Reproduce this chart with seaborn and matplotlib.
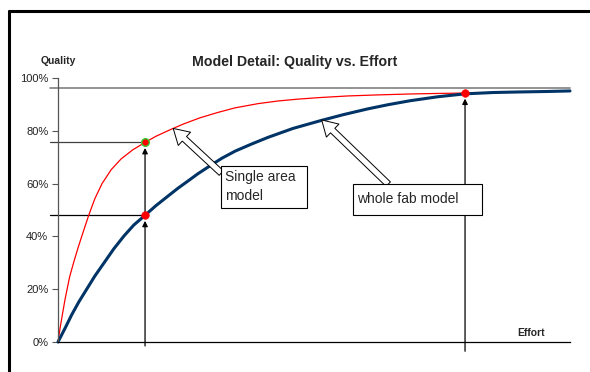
import matplotlib
matplotlib.use("Agg")
import numpy as np
import pandas as pd
import seaborn as sns
import matplotlib.pyplot as plt
from matplotlib.patches import Rectangle
from matplotlib.lines import Line2D

# values (effort in arbitrary units 0-100, quality in %)
effort_single = [0, 0.4, 1.0, 1.4, 1.8, 2.3, 3.1, 3.9, 4.7, 6.0, 7.2, 8.6, 10.4, 12.3, 14.6, 17.0,
                 19.1, 21.9, 24.4, 27.7, 31.3, 34.6, 39.1, 43.0, 46.9, 51.2, 56.6, 62.5, 68.8, 74.2, 79.5]
quality_single = [0, 5.2, 12, 16.4, 20.2, 24.9, 30.4, 35.6, 40.4, 48, 54.3, 60, 65.3, 69.3, 72.8, 75.6,
                  77.9, 80.4, 82.5, 84.9, 87.0, 88.7, 90.3, 91.3, 92.0, 92.6, 93.2, 93.6, 93.95, 94.15, 94.3]

effort_fab = [0, 1.4, 2.7, 4.1, 5.7, 7.2, 9.0, 10.9, 12.9, 14.8, 17.0, 19.1, 21.5, 23.4, 25.4, 27.3, 29.5,
              32.0, 34.6, 37.7, 41.0, 45.9, 51.2, 55.7, 60.5, 64.5, 68.8, 74.2, 79.5, 85.0, 89.8, 95.7, 100]
quality_fab = [0, 5.3, 10.4, 15.3, 20.3, 25.0, 30.0, 35.3, 40.2, 44.3, 48, 51.6, 55.3, 58.2, 61.0, 63.7, 66.5,
               69.6, 72.3, 74.9, 77.5, 80.9, 83.8, 86.1, 88.3, 89.9, 91.4, 92.9, 94.0, 94.5, 94.7, 94.9, 95.1]

point_effort = [17.0, 17.0, 79.5]
point_quality = [75.6, 48.0, 94.3]
ceiling = 96.2

y_ticks = [0, 20, 40, 60, 80, 100]
y_labels = ["0%", "20%", "40%", "60%", "80%", "100%"]

single = pd.DataFrame({"effort": effort_single, "quality": quality_single})
fab = pd.DataFrame({"effort": effort_fab, "quality": quality_fab})
pts = pd.DataFrame({"effort": point_effort, "quality": point_quality})

sns.set_style("white")
plt.rcParams["font.family"] = ["Liberation Sans", "DejaVu Sans"]

W, H = 590, 372
fig = plt.figure(figsize=(W / 100, H / 100), dpi=100)
ax = fig.add_axes([58 / W, 30 / H, 512 / W, 264 / H])

# frame lines (top and left only)
fig.add_artist(Line2D([8.5 / W, 1.0], [1 - 10.5 / H, 1 - 10.5 / H], color="black", lw=2.2))
fig.add_artist(Line2D([8.5 / W, 8.5 / W], [0, 1 - 10.5 / H], color="black", lw=2.2))

# reference lines
ax.plot([-1.6, 100], [ceiling, ceiling], color="#808080", lw=1.2, clip_on=False)
ax.plot([-1.6, point_effort[0]], [point_quality[0]] * 2, color="#404040", lw=0.9, clip_on=False)
ax.plot([-1.6, point_effort[1]], [point_quality[1]] * 2, color="black", lw=0.9, clip_on=False)

# vertical arrows up to points
arrow_kw = dict(arrowstyle="-|>", color="black", lw=0.9, shrinkA=0, shrinkB=4, mutation_scale=8)
ax.annotate("", xy=(point_effort[1], point_quality[1]), xytext=(point_effort[1], -1.5),
            arrowprops=arrow_kw, annotation_clip=False)
ax.annotate("", xy=(point_effort[0], point_quality[0]), xytext=(point_effort[1], point_quality[1]),
            arrowprops=arrow_kw, annotation_clip=False)
ax.annotate("", xy=(point_effort[2], point_quality[2]), xytext=(point_effort[2], -3.5),
            arrowprops=arrow_kw, annotation_clip=False)

sns.lineplot(data=single, x="effort", y="quality", color="#ff0000", lw=0.9, ax=ax, clip_on=False)
sns.lineplot(data=fab, x="effort", y="quality", color="#003366", lw=2.2, ax=ax, clip_on=False,
             solid_joinstyle="round")

sns.scatterplot(data=pts.iloc[1:], x="effort", y="quality", color="#ff0000", edgecolor="#ff0000",
                s=30, ax=ax, zorder=5, clip_on=False)
sns.scatterplot(data=pts.iloc[:1], x="effort", y="quality", color="#ff0000", edgecolor="#33cc33",
                linewidth=1.0, s=30, ax=ax, zorder=5, clip_on=False)

ax.set_xlim(0, 100)
ax.set_ylim(0, 100)
ax.set_xticks([])
ax.set_yticks(y_ticks)
ax.set_yticklabels(y_labels, fontsize=8, color="#222222")
ax.tick_params(axis="y", left=True, length=4, width=0.8, color="#555555", pad=3)
ax.set_xlabel("")
ax.set_ylabel("")
for s in ["top", "right"]:
    ax.spines[s].set_visible(False)
ax.spines["left"].set_color("#555555")
ax.spines["left"].set_linewidth(0.9)
ax.spines["bottom"].set_color("black")
ax.spines["bottom"].set_linewidth(0.9)

# callouts
block = dict(arrowstyle="simple,head_length=1.1,head_width=1.3,tail_width=0.45",
             fc="white", ec="black", lw=0.7, shrinkA=0, shrinkB=0, mutation_scale=10)
ax.annotate("", xy=(22.5, 80.9), xytext=(31.9, 64.0), arrowprops=block, zorder=6)
ax.annotate("", xy=(51.5, 84.1), xytext=(64.5, 59.8), arrowprops=block, zorder=6)

ax.add_patch(Rectangle((31.8, 50.8), 16.8, 15.9, fc="white", ec="black", lw=0.8, zorder=7))
ax.text(32.6, 58.9, "Single area\nmodel", fontsize=10, ha="left", va="center",
        linespacing=1.45, zorder=8)
ax.add_patch(Rectangle((57.6, 48.1), 25.2, 11.7, fc="white", ec="black", lw=0.8, zorder=7))
ax.text(58.4, 54.0, "whole fab model", fontsize=10, ha="left", va="center", zorder=8)

fig.text(295 / W, 1 - 62 / H, "Model Detail: Quality vs. Effort", fontsize=10.2,
         fontweight="bold", ha="center", va="center")
fig.text(40.5 / W, 1 - 60.5 / H, "Quality", fontsize=7.5, fontweight="bold", ha="left", va="center")
fig.text(517 / W, 1 - 332.5 / H, "Effort", fontsize=7.5, fontweight="bold", ha="left", va="center")

fig.savefig("out.png", dpi=100)
